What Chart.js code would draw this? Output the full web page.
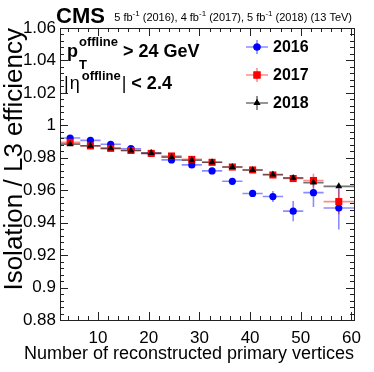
<!DOCTYPE html>
<html><head><meta charset="utf-8">
<script src="https://cdn.jsdelivr.net/npm/chart.js@4.4.1/dist/chart.umd.min.js"></script>
<style>html,body{margin:0;padding:0;background:#fff;}#wrap{width:374px;height:372px;}</style>
</head><body><div id="wrap"><canvas id="c" width="374" height="372"></canvas></div>
<script>
// ---- data ----
const binCenters    = [4.5, 8.5, 12.5, 16.5, 20.5, 24.5, 28.5, 32.5, 36.5, 40.5, 44.5, 48.5, 52.5, 57.5];
const binHalfWidths = [2, 2, 2, 2, 2, 2, 2, 2, 2, 2, 2, 2, 2, 3];
const eff2016 = [0.9922, 0.9907, 0.9883, 0.9856, 0.9827, 0.9787, 0.9756, 0.9719, 0.9655, 0.9580, 0.9561, 0.9471, 0.9585, 0.9490];
const err2016 = [0.0008, 0.0006, 0.0006, 0.0006, 0.0006, 0.0007, 0.0008, 0.0010, 0.0012, 0.0015, 0.0034, 0.0063, 0.0088, 0.0132];
const eff2017 = [0.9895, 0.9873, 0.9858, 0.9845, 0.9827, 0.9811, 0.9790, 0.9772, 0.9743, 0.9725, 0.9694, 0.9672, 0.9660, 0.9530];
const err2017 = [0.0006, 0.0005, 0.0005, 0.0005, 0.0005, 0.0006, 0.0006, 0.0007, 0.0008, 0.0010, 0.0012, 0.0015, 0.0042, 0.0078];
const eff2018 = [0.9884, 0.9874, 0.9858, 0.9845, 0.9829, 0.9804, 0.9785, 0.9772, 0.9743, 0.9725, 0.9697, 0.9676, 0.9647, 0.9624];
const err2018 = [0.0005, 0.0005, 0.0005, 0.0005, 0.0005, 0.0005, 0.0005, 0.0006, 0.0006, 0.0007, 0.0008, 0.0009, 0.0010, 0.0010];
const yearLabels = ['2016', '2017', '2018'];
const xTickValues = [10, 20, 30, 40, 50, 60];
const xTickLabels = ['10', '20', '30', '40', '50', '60'];
const yTickValues = [0.88, 0.90, 0.92, 0.94, 0.96, 0.98, 1.00, 1.02, 1.04, 1.06];
const yTickLabels = ['0.88', '0.9', '0.92', '0.94', '0.96', '0.98', '1', '1.02', '1.04', '1.06'];
const xTitle = 'Number of reconstructed primary vertices';
const yTitle = 'Isolation / L3 efficiency';

// ---- styles ----
const FONT = '"Liberation Sans", Arial, Helvetica, sans-serif';
Chart.defaults.font.family = FONT;
const seriesStyle = [
  {color: '#0000ff', bar: 'rgba(0,0,255,0.45)', style: 'circle', radius: 3.6, order: 3},
  {color: '#ff0000', bar: 'rgba(255,0,0,0.45)', style: 'rect', radius: 5, order: 2},
  {color: '#000000', bar: 'rgba(0,0,0,0.55)', style: 'triangle', radius: 4, order: 1}
];
const seriesVals = [eff2016, eff2017, eff2018];
const seriesErrs = [err2016, err2017, err2018];

const datasets = yearLabels.map((lab, k) => ({
  label: lab,
  data: binCenters.map((x, i) => ({x: x, y: seriesVals[k][i]})),
  pointStyle: seriesStyle[k].style,
  pointRadius: seriesStyle[k].radius,
  pointBackgroundColor: seriesStyle[k].color,
  pointBorderColor: seriesStyle[k].color,
  pointBorderWidth: 0,
  order: seriesStyle[k].order,
  showLine: false
}));

const errorBars = {
  id: 'errorBars',
  beforeDatasetsDraw(chart) {
    const {ctx, chartArea: a} = chart;
    const xs = chart.scales.x, ys = chart.scales.y;
    ctx.save();
    ctx.beginPath(); ctx.rect(a.left, a.top, a.right - a.left, a.bottom - a.top); ctx.clip();
    ctx.lineWidth = 1.6;
    yearLabels.forEach((lab, k) => {
      ctx.strokeStyle = seriesStyle[k].bar;
      binCenters.forEach((x, i) => {
        const y = seriesVals[k][i], e = seriesErrs[k][i], hw = binHalfWidths[i];
        const px = xs.getPixelForValue(x), py = ys.getPixelForValue(y);
        ctx.beginPath();
        ctx.moveTo(xs.getPixelForValue(x - hw), py); ctx.lineTo(xs.getPixelForValue(x + hw), py);
        ctx.moveTo(px, ys.getPixelForValue(y - e)); ctx.lineTo(px, ys.getPixelForValue(y + e));
        ctx.stroke();
      });
    });
    ctx.restore();
  }
};

const frameTicks = {
  id: 'frameTicks',
  afterDraw(chart) {
    const {ctx, chartArea: a} = chart;
    const xs = chart.scales.x, ys = chart.scales.y;
    ctx.save();
    ctx.strokeStyle = '#222'; ctx.lineWidth = 1;
    ctx.strokeRect(Math.round(a.left) + 0.5, Math.round(a.top) + 0.5, Math.round(a.right - a.left), Math.round(a.bottom - a.top));
    ctx.beginPath();
    for (let v = 4; v <= 60; v += 2) {
      const len = (v % 10 === 0) ? 8 : 4;
      const px = Math.round(xs.getPixelForValue(v)) + 0.5;
      ctx.moveTo(px, a.bottom); ctx.lineTo(px, a.bottom - len);
      ctx.moveTo(px, a.top); ctx.lineTo(px, a.top + len);
    }
    for (let j = 0; j <= 45; j++) {
      const v = 0.88 + j * 0.004;
      const len = (j % 5 === 0) ? 8 : 4;
      const py = Math.round(ys.getPixelForValue(v)) + 0.5;
      ctx.moveTo(a.left, py); ctx.lineTo(a.left + len, py);
      ctx.moveTo(a.right, py); ctx.lineTo(a.right - len, py);
    }
    ctx.stroke();
    ctx.restore();
  }
};

function drawSegs(ctx, x, segs) {
  segs.forEach(s => {
    ctx.font = s.font;
    ctx.fillText(s.t, x, s.y);
    x += ctx.measureText(s.t).width + (s.gap || 0);
  });
  return x;
}

const texts = {
  id: 'texts',
  afterDraw(chart) {
    const ctx = chart.ctx;
    const a = chart.chartArea;
    ctx.save();
    ctx.fillStyle = '#000';
    ctx.textBaseline = 'alphabetic';
    // x-axis title, right aligned at the frame edge
    ctx.textAlign = 'right';
    ctx.font = '18px ' + FONT;
    ctx.fillText(xTitle, a.right, 359);
    ctx.textAlign = 'left';
    ctx.font = 'bold 22px ' + FONT;
    ctx.fillText('CMS', 56, 23);
    const N = '11px ' + FONT, S = '8px ' + FONT;
    const lumi = [
      {t: '5 fb', font: N, y: 21}, {t: '-1', font: S, y: 16},
      {t: ' (2016), 4 fb', font: N, y: 21}, {t: '-1', font: S, y: 16},
      {t: ' (2017), 5 fb', font: N, y: 21}, {t: '-1', font: S, y: 16},
      {t: ' (2018) (13 TeV)', font: N, y: 21}
    ];
    let w = 0; lumi.forEach(s => { ctx.font = s.font; w += ctx.measureText(s.t).width; });
    drawSegs(ctx, 352 - w, lumi);
    const B18 = 'bold 18px ' + FONT, B13 = 'bold 13px ' + FONT, R18 = '18px ' + FONT;
    ctx.font = B18; ctx.fillText('p', 67, 57);
    let x0 = 67 + ctx.measureText('p').width + 1;
    ctx.font = B13; ctx.fillText('offline', x0, 46);
    const wsup = ctx.measureText('offline').width;
    ctx.fillText('T', x0, 69);
    ctx.font = B18; ctx.fillText(' > 24 GeV', x0 + wsup, 57);
    let x1 = drawSegs(ctx, 64, [{t: '|', font: R18, y: 89, gap: 1}, {t: 'η', font: R18, y: 89, gap: 2}]);
    x1 = drawSegs(ctx, x1, [{t: 'offline', font: B13, y: 80, gap: 1}]);
    drawSegs(ctx, x1, [{t: '|', font: R18, y: 89}, {t: ' < 2.4', font: B18, y: 89}]);
    const legY = [47, 75, 103];
    yearLabels.forEach((lab, k) => {
      const cx = 257, cy = legY[k];
      ctx.strokeStyle = seriesStyle[k].bar; ctx.lineWidth = 1.6;
      ctx.beginPath();
      ctx.moveTo(cx - 11, cy); ctx.lineTo(cx + 11, cy);
      ctx.moveTo(cx, cy - 7); ctx.lineTo(cx, cy + 7);
      ctx.stroke();
      ctx.fillStyle = seriesStyle[k].color;
      Chart.helpers.drawPoint(ctx, {pointStyle: seriesStyle[k].style, radius: seriesStyle[k].radius, rotation: 0, borderWidth: 0}, cx, cy);
      ctx.fill();
      ctx.fillStyle = '#000';
      ctx.font = 'bold 16px ' + FONT;
      ctx.textBaseline = 'middle';
      ctx.fillText(lab, 273, cy + 1);
      ctx.textBaseline = 'alphabetic';
    });
    ctx.restore();
  }
};

new Chart(document.getElementById('c'), {
  type: 'scatter',
  data: {datasets: datasets},
  options: {
    responsive: false, animation: false, devicePixelRatio: 1,
    layout: {padding: {top: 28, right: 20, left: 0, bottom: 0}},
    plugins: {legend: {display: false}, tooltip: {enabled: false}},
    scales: {
      x: {
        type: 'linear', min: 2.5, max: 60.5,
        afterBuildTicks: s => { s.ticks = xTickValues.map(v => ({value: v})); },
        afterFit: s => { s.height = 52; },
        grid: {display: false, drawTicks: false}, border: {display: false},
        ticks: {font: {size: 17}, color: '#000', padding: 8, maxRotation: 0, autoSkip: false,
                callback: (v, i) => xTickLabels[i]},
        title: {display: false}
      },
      y: {
        type: 'linear', min: 0.88, max: 1.06,
        afterBuildTicks: s => { s.ticks = yTickValues.map(v => ({value: v})); },
        afterFit: s => { s.width = 60; },
        grid: {display: false, drawTicks: false}, border: {display: false},
        ticks: {font: {size: 17}, color: '#000', padding: 4, autoSkip: false,
                callback: (v, i) => yTickLabels[i]},
        title: {display: true, text: yTitle, align: 'end', color: '#000', font: {size: 26}, padding: {top: -1, bottom: 0}}
      }
    }
  },
  plugins: [errorBars, frameTicks, texts]
});
</script></body></html>
